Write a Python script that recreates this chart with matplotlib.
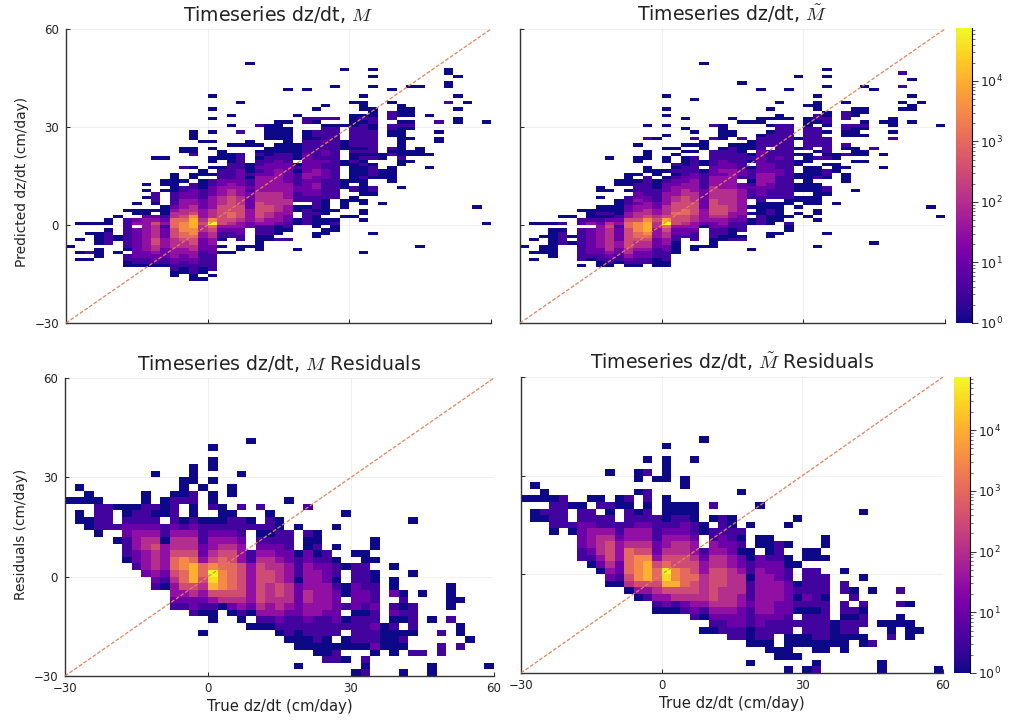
import numpy as np
import matplotlib
matplotlib.use("Agg")
import matplotlib.pyplot as plt
from matplotlib.colors import LogNorm
from matplotlib.ticker import LogLocator, NullFormatter

plt.rcParams['mathtext.fontset'] = 'cm'
plt.rcParams['axes.unicode_minus'] = True

# each string is one 2 cm/day wide column of the histogram, left to right
# "y:levels" = first bin and then the bins going up, level = 2*log10(count), a = peak, . = empty
M_COLS = [
    "-7:0", "-11:0 -9:0 -5:0 0:0", "-11:0 -9:1 -3:0 0:0", "-10:000 -6:0000 0:0",
    "-6:11110 0:00", "-9:0 -5:00 2:0", "-13:0011.0111111111 4:0",
    "-13:011222222222.32 3:00 6:0", "-13:0112233333333332 3:00 8:0 10:0 12:0",
    "-13:0122344554444532 4:0 6:0111 20:0", "-13:0112223332221 0:3210 4:00 10:0 12:00 20:0",
    "-16:00112233344455566644321111 10:00 12:0000",
    "-15:001122334456677765443332211 13:0 17:1 22:00",
    "-17:001112233445567788875443322211 14:00 17:0 21:100 26:000",
    "-17:0 -15:00111112222334454333222111000 15:00 25:0",
    "-16:0 -14:11111222334456a7444333322211 15:0 17:0 19:00 23:0 25:0 28:0 32:0 35:0 39:0",
    "-9:0 -7:0 -5:01123555555444333221110 20:000",
    "-9:0 -4:11234566555554433211111000 24:0 30:0 33:0",
    "-8:00 -5:112233455554443332222211111 24:0 28:1 37:0",
    "-7:0 -1:22333322222121101000 24:00 49:0",
    "-8:00000111345555544433333212110 21:10 24:0 30:1",
    "-5:00111334455444433333222211000 26:00000",
    "-5:1 -3:00023334444443333333222110 23:00 26:000000",
    "-5:1 -2:01122333443333322222211100000000 31:0 41:0",
    "-8:0 0:00 4:00 7:111221111010.00000 33:0",
    "0:111110 7:1122222332222221111000 31:11 41:0",
    "-4:00 -1:0000101111223322332221111110 27:11 31:01 35:0",
    "-3:00 0:00 3:00000 8:1111112221121221121111 30:0 32:1 36:0",
    "-2:001 1:0 4:0 8:1111111111111111111111 30:0 32:1 42:0",
    "2:0 5:000 11:000 18:00 23:00 25:0 30:0 47:0",
    "2:0 7:00 10:11 13:000000100 22:10111111 30:0000 37:0",
    "-9:0 1:0 3:00 6:00 9:0000010001010 22:10 24:1111111 31:010 35:000 39:0",
    "-3:0 9:011 14:01110 20:1011111110 30:011000 42:0 45:0 47:0",
    "6:0 14:000 20:00",
    "13:00000 21:101 27:0011 32:111 37:0 41:0",
    "11:0 18:00100 23:0000000 30:10 33:0000",
    "19:0 21:00 26:0 29:010 33:000 42:0",
    "-7:0 21:000 42:0", "17:0 21:0 33:0", "25:00 28:0 31:1", "37:1 42:00 46:00",
    "31:00 35:0 39:0 45:0", "37:0", "5:0", "0:0 31:0",
]

MT_COLS = [
    "-7:0", "-11:0 -9:0 -5:0 0:0", "-9:000 -4:0 0:0", "-10:0000 -6:00000 0:0",
    "-6:1111 -2:0 0:1 2:0", "-6:0 -4:0 2:0", "-13:0 -11:1111111111 0:11 4:0",
    "-11:0122222222 0:31 2:000", "-13:0011223333333232 1:10100 8:0 10:00",
    "-13:0112344444445420100 10:0 20:0", "-12:0112233222213210 4:0000 12:00",
    "-13:0123445555556653322111 10:0 12:00 14:00",
    "-13:0 -12:1122344566777544 4:3323221110 15:0 19:00 24:0",
    "-12:11223445678887544 5:3322111111 16:00 20:000 26:1 30:0",
    "-13:00011122233344543 3:3322111 10:1 11:000 15:00 26:0",
    "-13:0011122334456a85444 6:333322210 16:0 19:00 23:0 27:0 30:0 33:0 35:0 39:0",
    "-9:000 -6:0112235556 4:555443332210101 21:0 23:0",
    "-4:1223455665555 9:443 12:3221 15:11100 20:0 22:0 24:0 29:0 32:0",
    "-8:00 -5:111233445555444333322 16:1111 20:1 22:0 24:0 26:1 28:0 38:0",
    "-7:0 -1:02333322222211111 16:0 18:00 23:00 25:0 49:0",
    "-7:00011122345555544443333 15:222 18:11111 26:1 30:1",
    "-5:00112334555444443333 15:232221 21:110 26:00000",
    "-5:100011233444444433333 16:3 17:2211111 24:0 27:00 32:0",
    "-5:10 -2:111223333333322 14:1221 18:1111 22:000 26:1 31:0 43:0",
    "-8:0 0:00 3:0 5:0 8:1112101 15:110 19:0 20:10 23:000 31:0",
    "0:11100 5:00 7:1 8:1222 12:3333 16:2222222 23:11110 31:00 41:0",
    "-4:00 0:0001100 8:1112 12:2333222 19:1111 24:11110 30:0 32:0 35:0",
    "-3:0 1:000000 8:11111112 16:21111 20:211111 26:11111 32:00 37:0",
    "-2:00 0:1 2:0 6:00 8:11111111111111111111111 32:0 41:0",
    "3:0 5:0 7:00 10:000 14:00 18:00 21:0 23:0 26:0 45:0",
    "2:0 6:000 10:000 13:00000 19:00 21:0 23:1 24:111 27:111 30:00 32:0 36:0",
    "-7:0 1:0 3:00 6:00 8:00000 14:1000 20:1 22:0 24:111111 31:011 35:000 39:0",
    "-3:0 9:011 14:011 18:0 20:1011111 28:0 30:01100 42:0 45:0 47:0",
    "6:0 16:000 20:00",
    "13:000 17:0 21:1 23:01 27:0011 32:111 37:0",
    "10:0 19:0 21:000 27:000 30:1 33:000",
    "19:0 21:00 27:0 29:010 34:00 42:0",
    "-6:0 23:1 41:0", "17:0 21:0 31:0", "26:1 28:0 30:000", "35:0 37:0 42:1 46:1",
    "31:0 35:00 39:0 44:0", "37:0", "5:0", "2:0 30:0",
]

# same layout, bins 2 cm/day high, so each level char is one 2 unit step up
RES_COLS = [
    "22:0", "16:00 22:0 26:0", "14:00 22:00", "12:011110", "14:1111", "10:0 14:1 20:0",
    "4:011122100", "2:1223332110", "0:2333443211100", "-4:1234445432101 30:0",
    "-4:0123333011.000", "-10:123345665443211110", "-10:12356677544310 22:1000",
    "-12:1224588865443210011 28:000", "-18:0 -12:012345663221110 26:0",
    "-14:0013589a75433210 20:100 28:0 32:00 38:0", "-10:0457776654321000",
    "-12:0245666655432110 24:00", "-14:0134555553332111 20:1 30:0",
    "-16:0 -12:0233333311 14:10 40:0", "-16:0134555555432101 20:1",
    "-16:013344455443210110", "-18:012344554443221100", "-20:01112344433322111 22:0",
    "-28:0 -22:000112222201110 14:0", "-22:001123344333322001 20:1",
    "-24:0011113333333210100", "-26:10001112333322211",
    "-26:110.112222210110 8:0 14:0", "-26:0 -22:00 -16:10 -10:1 -6:00 2:0 18:0",
    "-30:0 -22:0111102222111 6:0", "-30:101 -22:011110122111100",
    "-24:0211211211100 4:0 8:00", "-22:0000", "-24:00001021 -6:200 2:0",
    "-30:0 -22:010 -14:01010", "-24:1 -18:01111 0:0 16:0", "-24:1 -6:0", "-30:00 -14:0",
    "-24:11 -18:1", "-14:1 -10:0000", "-22:1 -18:00 -8:0", "-20:0", "", "-28:0",
]

RES_T_COLS = [
    "22:0", "16:00 22:0 26:0", "16:01 22:00", "12:011110", "14:11111", "12:01 20:0",
    "4:112222110", "2:012333211.0", "0:023444311.10", "-4:0234555431101 30:0",
    "-4:0122333211 20:00", "-6:045666643311101", "-8:03577775433210 24:0 28:00",
    "-8:13588875433211011 30:1 34:0", "-12:013456653221111 28:0",
    "-12:023589a65433210000 28:0000 38:0", "-12:01458775544321100",
    "-12:12456665544322100 26:00", "-14:123455655433211000 34:0",
    "-18:0 -14:01344443321 12:00 40:0", "-18:0123455555443311.0 20:1",
    "-18:112344455544322111", "-20:1122344444433221100", "-20:11222334443220101 24:0",
    "-28:0 -22:000111211101100 14:0", "-22:01122333333322.00 20:0",
    "-24:001112333333221000", "-26:00 -18:11222333222111",
    "-30:0 -26:0000111222221100 8:0 14:0", "-26:0 -22:00 -16:1 -12:01010 2:0 16:0",
    "-30:0 -22:001110121111 4:00", "-30:10 -24:0011110111111 4:00",
    "-24:001111110111 4:0 8:00", "-22:0000", "-24:00011011 -6:11 0:0",
    "-20:01101 -8:10", "-22:00 -16:1101 -2:0 18:0", "-22:1 -6:0", "-30:00 -16:0",
    "-20:100", "-16:00 -10:1 -6:1", "-20:000 -10:0", "-18:0", "", "-30:0",
]

PANEL_TITLES = [r"Timeseries dz/dt, $M$", r"Timeseries dz/dt, $\tilde{M}$",
                r"Timeseries dz/dt, $M$ Residuals", r"Timeseries dz/dt, $\tilde{M}$ Residuals"]
TICKS = [-30, 0, 30, 60]
TICK_LABELS = ["\u221230", "0", "30", "60"]


def to_grid(cols, y_step):
    # turns the column strings into a count matrix for pcolormesh
    n_rows = 90 // y_step
    grid = np.full((n_rows, 45), np.nan)
    for i, col in enumerate(cols):
        for part in col.split():
            start, levels = part.split(":")
            for k, ch in enumerate(levels):
                if ch == ".":
                    continue
                row = (int(start) + 30) // y_step + k
                if 0 <= row < n_rows:
                    level = 9.8 if ch == "a" else float(ch)
                    grid[row, i] = 10 ** (level / 2)
    return grid


def axes_px(fig, x0, x1, y0, y1):
    # pixel box (y from the top) to figure fractions
    w, h = 1018.0, 720.0
    return fig.add_axes([x0 / w, 1 - y1 / h, (x1 - x0) / w, (y1 - y0) / h])


fig = plt.figure(figsize=(10.18, 7.2), dpi=100)
norm = LogNorm(vmin=1, vmax=7.5e4)

boxes = [(66, 491, 29, 323), (520, 945, 29, 323), (65, 494, 378, 676), (521, 943, 377, 673)]
cbar_boxes = [(956, 972, 28, 323), (954, 970, 377, 673)]
panels = [(M_COLS, 1), (MT_COLS, 1), (RES_COLS, 2), (RES_T_COLS, 2)]

for n, (cols, y_step) in enumerate(panels):
    ax = axes_px(fig, *boxes[n])
    x_edges = np.arange(-30, 61, 2)
    y_edges = np.arange(-30, 61, y_step)
    mesh = ax.pcolormesh(x_edges, y_edges, to_grid(cols, y_step), cmap="plasma", norm=norm, zorder=2)
    ax.plot([-30, 60], [-30, 60], color="#e8805c", lw=0.9, ls=(0, (3, 1.5)), zorder=3)

    ax.set_xlim(-30, 60)
    ax.set_ylim(-30, 60)
    ax.set_xticks(TICKS)
    ax.set_yticks(TICKS)
    ax.set_xticklabels(TICK_LABELS if n >= 2 else [])
    ax.set_yticklabels(TICK_LABELS if n % 2 == 0 else [])
    ax.tick_params(direction="in", length=3, width=0.7, labelsize=8.5, color="#222222", labelcolor="#222222")
    ax.tick_params(axis="x", pad=4)
    ax.tick_params(axis="y", pad=5)
    ax.grid(True, color="#000000", alpha=0.06, lw=0.7, zorder=0)
    ax.set_axisbelow(True)
    for side in ["top", "right"]:
        ax.spines[side].set_visible(False)
    for side in ["left", "bottom"]:
        ax.spines[side].set_linewidth(1.0)
        ax.spines[side].set_color("#333333")
    ax.set_title(PANEL_TITLES[n], fontsize=13.6, pad=6, color="#222222")

    if n == 0:
        ax.set_ylabel("Predicted dz/dt (cm/day)", fontsize=9.9, labelpad=4, y=0.48, color="#222222")
    if n == 2:
        ax.set_ylabel("Residuals (cm/day)", fontsize=9.9, labelpad=4, y=0.475, color="#222222")
    if n >= 2:
        ax.set_xlabel("True dz/dt (cm/day)", fontsize=10.7, labelpad=3, color="#222222")

    if n % 2 == 1:
        cax = axes_px(fig, *cbar_boxes[n // 2])
        cb = fig.colorbar(mesh, cax=cax)
        cb.outline.set_visible(False)
        cb.ax.spines["right"].set_visible(True)
        cb.ax.yaxis.set_major_locator(LogLocator(base=10, numticks=8))
        cb.ax.yaxis.set_minor_locator(LogLocator(base=10, subs=np.arange(2, 10), numticks=8))
        cb.ax.yaxis.set_minor_formatter(NullFormatter())
        cb.ax.tick_params(which="major", length=4, width=0.7, labelsize=9, color="#333333", labelcolor="#222222", pad=2)
        cb.ax.tick_params(which="minor", length=2, width=0.5, color="#333333")

fig.savefig("out.png", dpi=100, facecolor="white")
